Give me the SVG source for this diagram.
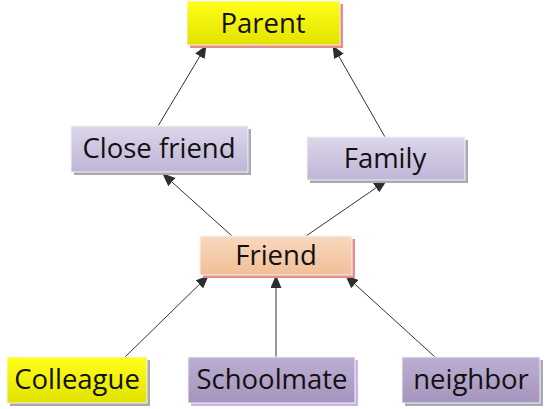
<svg xmlns="http://www.w3.org/2000/svg" width="545" height="409" viewBox="0 0 545 409">
  <defs>
    <linearGradient id="gYellow" x1="0" y1="0" x2="0" y2="1">
      <stop offset="0" stop-color="#ffff1a"/>
      <stop offset="1" stop-color="#e2e200"/>
    </linearGradient>
    <linearGradient id="gLavender" x1="0" y1="0" x2="0" y2="1">
      <stop offset="0" stop-color="#dcd6ea"/>
      <stop offset="1" stop-color="#bfb5d6"/>
    </linearGradient>
    <linearGradient id="gPeach" x1="0" y1="0" x2="0" y2="1">
      <stop offset="0" stop-color="#f9d8bf"/>
      <stop offset="1" stop-color="#f0bf97"/>
    </linearGradient>
    <linearGradient id="gPurple" x1="0" y1="0" x2="0" y2="1">
      <stop offset="0" stop-color="#bcafd2"/>
      <stop offset="1" stop-color="#a594bd"/>
    </linearGradient>
    <marker id="arrow" viewBox="0 0 13 11" refX="12" refY="5.5" markerWidth="13" markerHeight="11" markerUnits="userSpaceOnUse" orient="auto">
      <path d="M0,0 L13,5.5 L0,11 z" fill="#2e2e2e"/>
    </marker>
    <style>
      .box { stroke: #f4f4f4; stroke-width: 1; }
      .label { font-family: "Open Sans", "Noto Sans", "Liberation Sans", sans-serif; font-size: 27.5px; fill: #111; text-anchor: middle; dominant-baseline: central; }
      .edge { stroke: #333; stroke-width: 1; fill: none; marker-end: url(#arrow); }
      .shRed { fill: #e98c8c; }
      .shGray { fill: #a9a9b3; }
      .shViolet { fill: #cdb3e3; }
    </style>
  </defs>

  <!-- connectors -->
  <g id="connectors">
    <line class="edge" x1="158" y1="126" x2="206" y2="46"/>
    <line class="edge" x1="385" y1="137" x2="333" y2="46"/>
    <line class="edge" x1="232" y1="236" x2="163" y2="174"/>
    <line class="edge" x1="306" y1="236" x2="386" y2="181"/>
    <line class="edge" x1="125" y1="357" x2="208" y2="276"/>
    <line class="edge" x1="276" y1="357" x2="276" y2="276"/>
    <line class="edge" x1="435" y1="357" x2="346" y2="276"/>
  </g>

  <g id="parent">
    <rect class="shRed" x="190" y="4" width="153" height="44"/>
    <rect class="box" x="187" y="1" width="153" height="44" fill="url(#gYellow)"/>
    <text class="label" x="263" y="22">Parent</text>
  </g>

  <g id="close-friend">
    <rect class="shGray" x="74" y="129" width="177" height="46"/>
    <rect class="box" x="71" y="126" width="177" height="46" fill="url(#gLavender)"/>
    <text class="label" x="159" y="147">Close friend</text>
  </g>

  <g id="family">
    <rect class="shGray" x="310" y="140" width="158" height="43"/>
    <rect class="box" x="307" y="137" width="158" height="43" fill="url(#gLavender)"/>
    <text class="label" x="385" y="157">Family</text>
  </g>

  <g id="friend">
    <rect class="shRed" x="203" y="239" width="152" height="39"/>
    <rect class="box" x="200" y="236" width="152" height="39" fill="url(#gPeach)"/>
    <text class="label" x="276" y="254">Friend</text>
  </g>

  <g id="colleague">
    <rect class="shGray" x="10" y="360" width="140" height="46"/>
    <rect class="box" x="7" y="357" width="140" height="46" fill="url(#gYellow)"/>
    <text class="label" x="77" y="378">Colleague</text>
  </g>

  <g id="schoolmate">
    <rect class="shViolet" x="191" y="360" width="167" height="46"/>
    <rect class="box" x="188" y="357" width="167" height="46" fill="url(#gPurple)"/>
    <text class="label" x="272" y="378">Schoolmate</text>
  </g>

  <g id="neighbor">
    <rect class="shGray" x="405" y="360" width="138" height="46"/>
    <rect class="box" x="402" y="357" width="138" height="46" fill="url(#gPurple)"/>
    <text class="label" x="471" y="378">neighbor</text>
  </g>
</svg>
